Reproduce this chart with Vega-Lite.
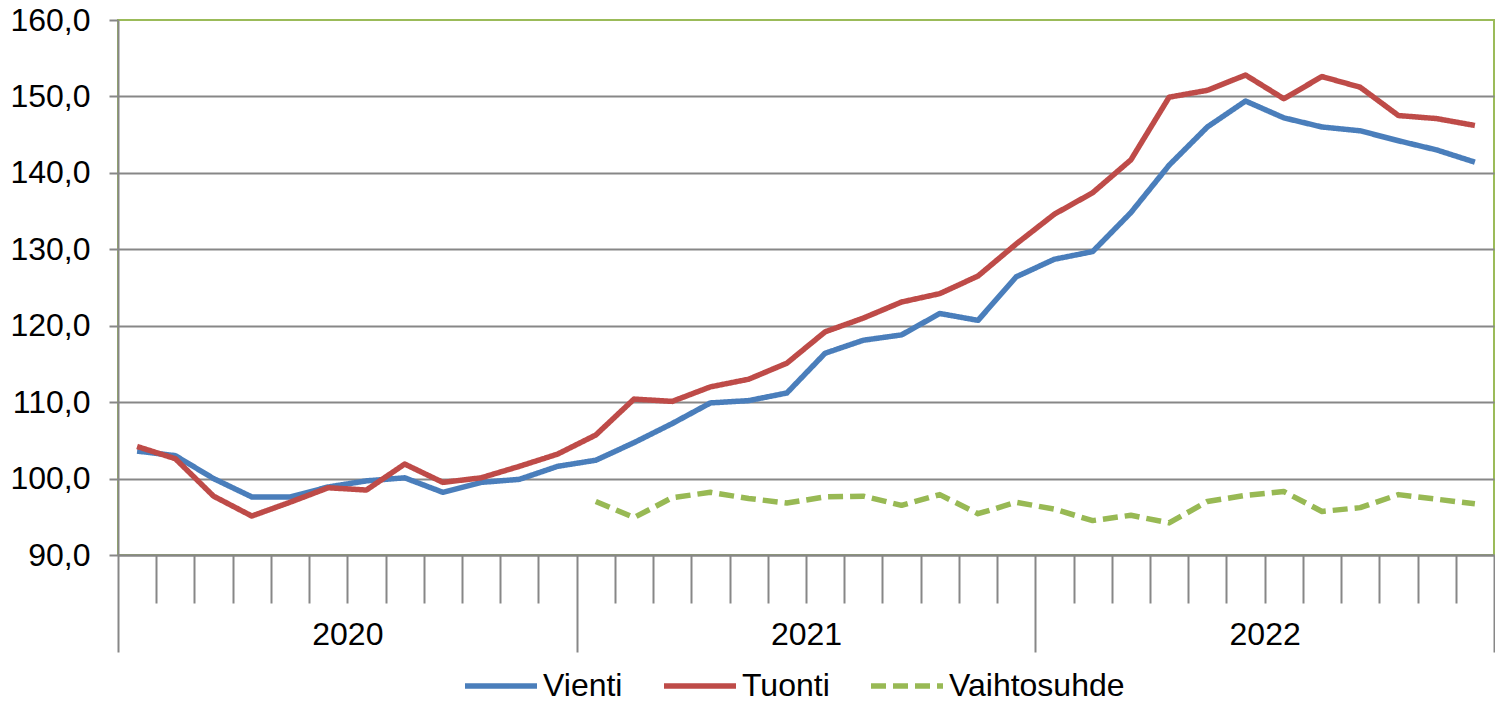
{
  "$schema": "https://vega.github.io/schema/vega-lite/v6.json",
  "width": 1376,
  "height": 535,
  "autosize": "none",
  "padding": {"left": 118, "top": 20, "right": 1, "bottom": 146},
  "background": "white",
  "config": {
    "font": "Liberation Sans",
    "view": {"stroke": "#9BBB59", "strokeWidth": 2}
  },
  "data": {
    "values": [
      {"kk": 1, "kuukausi": "2020-01", "Vienti": 103.6, "Tuonti": 104.2, "Vaihtosuhde": null},
      {"kk": 2, "kuukausi": "2020-02", "Vienti": 103.0, "Tuonti": 102.6, "Vaihtosuhde": null},
      {"kk": 3, "kuukausi": "2020-03", "Vienti": 100.0, "Tuonti": 97.7, "Vaihtosuhde": null},
      {"kk": 4, "kuukausi": "2020-04", "Vienti": 97.6, "Tuonti": 95.1, "Vaihtosuhde": null},
      {"kk": 5, "kuukausi": "2020-05", "Vienti": 97.6, "Tuonti": 96.9, "Vaihtosuhde": null},
      {"kk": 6, "kuukausi": "2020-06", "Vienti": 98.9, "Tuonti": 98.8, "Vaihtosuhde": null},
      {"kk": 7, "kuukausi": "2020-07", "Vienti": 99.7, "Tuonti": 98.5, "Vaihtosuhde": null},
      {"kk": 8, "kuukausi": "2020-08", "Vienti": 100.1, "Tuonti": 101.9, "Vaihtosuhde": null},
      {"kk": 9, "kuukausi": "2020-09", "Vienti": 98.2, "Tuonti": 99.5, "Vaihtosuhde": null},
      {"kk": 10, "kuukausi": "2020-10", "Vienti": 99.5, "Tuonti": 100.1, "Vaihtosuhde": null},
      {"kk": 11, "kuukausi": "2020-11", "Vienti": 99.9, "Tuonti": 101.6, "Vaihtosuhde": null},
      {"kk": 12, "kuukausi": "2020-12", "Vienti": 101.6, "Tuonti": 103.2, "Vaihtosuhde": null},
      {"kk": 13, "kuukausi": "2021-01", "Vienti": 102.4, "Tuonti": 105.7, "Vaihtosuhde": 97.0},
      {"kk": 14, "kuukausi": "2021-02", "Vienti": 104.7, "Tuonti": 110.4, "Vaihtosuhde": 94.9},
      {"kk": 15, "kuukausi": "2021-03", "Vienti": 107.2, "Tuonti": 110.1, "Vaihtosuhde": 97.5},
      {"kk": 16, "kuukausi": "2021-04", "Vienti": 109.9, "Tuonti": 112.0, "Vaihtosuhde": 98.2},
      {"kk": 17, "kuukausi": "2021-05", "Vienti": 110.2, "Tuonti": 113.0, "Vaihtosuhde": 97.4},
      {"kk": 18, "kuukausi": "2021-06", "Vienti": 111.2, "Tuonti": 115.1, "Vaihtosuhde": 96.8},
      {"kk": 19, "kuukausi": "2021-07", "Vienti": 116.4, "Tuonti": 119.2, "Vaihtosuhde": 97.6},
      {"kk": 20, "kuukausi": "2021-08", "Vienti": 118.1, "Tuonti": 121.0, "Vaihtosuhde": 97.7},
      {"kk": 21, "kuukausi": "2021-09", "Vienti": 118.8, "Tuonti": 123.1, "Vaihtosuhde": 96.5},
      {"kk": 22, "kuukausi": "2021-10", "Vienti": 121.6, "Tuonti": 124.2, "Vaihtosuhde": 97.9},
      {"kk": 23, "kuukausi": "2021-11", "Vienti": 120.7, "Tuonti": 126.5, "Vaihtosuhde": 95.4},
      {"kk": 24, "kuukausi": "2021-12", "Vienti": 126.4, "Tuonti": 130.7, "Vaihtosuhde": 96.9},
      {"kk": 25, "kuukausi": "2022-01", "Vienti": 128.7, "Tuonti": 134.6, "Vaihtosuhde": 96.0},
      {"kk": 26, "kuukausi": "2022-02", "Vienti": 129.7, "Tuonti": 137.4, "Vaihtosuhde": 94.5},
      {"kk": 27, "kuukausi": "2022-03", "Vienti": 134.8, "Tuonti": 141.7, "Vaihtosuhde": 95.2},
      {"kk": 28, "kuukausi": "2022-04", "Vienti": 141.0, "Tuonti": 149.9, "Vaihtosuhde": 94.2},
      {"kk": 29, "kuukausi": "2022-05", "Vienti": 146.0, "Tuonti": 150.8, "Vaihtosuhde": 97.0},
      {"kk": 30, "kuukausi": "2022-06", "Vienti": 149.4, "Tuonti": 152.8, "Vaihtosuhde": 97.8},
      {"kk": 31, "kuukausi": "2022-07", "Vienti": 147.2, "Tuonti": 149.7, "Vaihtosuhde": 98.3},
      {"kk": 32, "kuukausi": "2022-08", "Vienti": 146.0, "Tuonti": 152.6, "Vaihtosuhde": 95.7},
      {"kk": 33, "kuukausi": "2022-09", "Vienti": 145.5, "Tuonti": 151.2, "Vaihtosuhde": 96.2},
      {"kk": 34, "kuukausi": "2022-10", "Vienti": 144.2, "Tuonti": 147.5, "Vaihtosuhde": 97.9},
      {"kk": 35, "kuukausi": "2022-11", "Vienti": 143.0, "Tuonti": 147.1, "Vaihtosuhde": 97.3},
      {"kk": 36, "kuukausi": "2022-12", "Vienti": 141.4, "Tuonti": 146.2, "Vaihtosuhde": 96.7}
    ]
  },
  "transform": [{"fold": ["Vienti", "Tuonti", "Vaihtosuhde"], "as": ["sarja", "arvo"]}],
  "encoding": {
    "y": {
      "field": "arvo",
      "type": "quantitative",
      "scale": {"domain": [90, 160], "nice": false, "zero": false},
      "axis": {
        "title": null,
        "values": [90, 100, 110, 120, 130, 140, 150, 160],
        "labelExpr": "replace(format(datum.value, '.1f'), '.', ',')",
        "labelFontSize": 32,
        "labelColor": "black",
        "labelPadding": 19,
        "tickSize": 9,
        "tickColor": "#878787",
        "tickWidth": 2,
        "domainColor": "#878787",
        "domainWidth": 2,
        "gridColor": {"condition": {"test": "datum.value === 160", "value": "transparent"}, "value": "#878787"},
        "gridWidth": 2
      }
    }
  },
  "layer": [
    {
      "mark": {"type": "line", "strokeWidth": 5.5, "strokeCap": "butt", "strokeJoin": "round"},
      "encoding": {
        "x": {
          "field": "kk",
          "type": "quantitative",
          "scale": {"domain": [0.5, 36.5], "nice": false, "zero": false},
          "axis": {
            "orient": "bottom",
            "title": null,
            "values": [0.5, 1.5, 2.5, 3.5, 4.5, 5.5, 6.5, 7.5, 8.5, 9.5, 10.5, 11.5, 12.5, 13.5, 14.5, 15.5, 16.5, 17.5, 18.5, 19.5, 20.5, 21.5, 22.5, 23.5, 24.5, 25.5, 26.5, 27.5, 28.5, 29.5, 30.5, 31.5, 32.5, 33.5, 34.5, 35.5, 36.5],
            "labels": false,
            "grid": false,
            "domainColor": "#878787",
            "domainWidth": 2,
            "tickColor": "#878787",
            "tickWidth": 2,
            "tickSize": {"condition": {"test": "(datum.value - 0.5) % 12 === 0", "value": 97}, "value": 48}
          }
        },
        "color": {
          "field": "sarja",
          "type": "nominal",
          "scale": {"domain": ["Vienti", "Tuonti", "Vaihtosuhde"], "range": ["#4A7EBB", "#BE4B48", "#98B954"]},
          "legend": {
            "title": null,
            "orient": "none",
            "direction": "horizontal",
            "legendX": 344,
            "legendY": 627,
            "padding": 0,
            "symbolType": "stroke",
            "symbolSize": 5184,
            "symbolStrokeWidth": 5.5,
            "labelFontSize": 32,
            "labelColor": "black",
            "labelOffset": 3,
            "labelLimit": 400,
            "columnPadding": 30
          }
        },
        "strokeDash": {
          "field": "sarja",
          "type": "nominal",
          "scale": {"domain": ["Vienti", "Tuonti", "Vaihtosuhde"], "range": [[1, 0], [1, 0], [15, 7]]},
          "legend": {
            "title": null,
            "orient": "none",
            "direction": "horizontal",
            "legendX": 344,
            "legendY": 627,
            "padding": 0,
            "symbolType": "stroke",
            "symbolSize": 5184,
            "symbolStrokeWidth": 5.5,
            "labelFontSize": 32,
            "labelColor": "black",
            "labelOffset": 3,
            "labelLimit": 400,
            "columnPadding": 30
          }
        }
      }
    },
    {
      "mark": {"type": "point", "opacity": 0},
      "encoding": {
        "x": {
          "field": "kk",
          "type": "quantitative",
          "scale": {"domain": [0.5, 36.5], "nice": false, "zero": false},
          "axis": {
            "orient": "bottom",
            "title": null,
            "values": [6.5, 18.5, 30.5],
            "labelExpr": "datum.value < 12 ? '2020' : datum.value < 24 ? '2021' : '2022'",
            "ticks": false,
            "tickSize": 0,
            "domain": false,
            "grid": false,
            "labelFontSize": 32,
            "labelColor": "black",
            "labelPadding": 64
          }
        }
      }
    }
  ],
  "resolve": {"scale": {"x": "independent"}, "axis": {"x": "independent"}}
}
